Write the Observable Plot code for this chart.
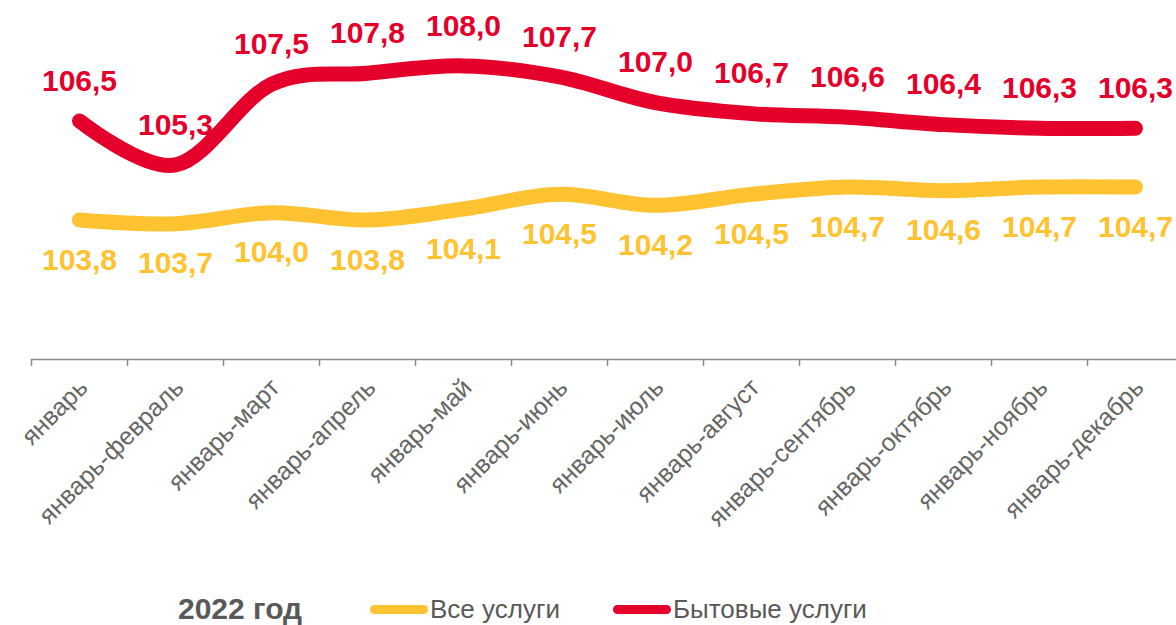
<!DOCTYPE html>
<html>
<head>
<meta charset="utf-8">
<script src="https://cdn.jsdelivr.net/npm/d3@7"></script>
<script src="https://cdn.jsdelivr.net/npm/@observablehq/plot@0.6"></script>
<style>
  html, body { margin: 0; padding: 0; background: #fff; }
  body { width: 1176px; height: 625px; position: relative; overflow: hidden; font-family: "Liberation Sans", Arial, sans-serif; }
  #chart svg { display: block; }
  .legend { position: absolute; top: 593px; left: 0; width: 1176px; height: 32px; color: #595959; }
  .legend .item { position: absolute; top: 0; height: 32px; line-height: 32px; white-space: nowrap; }
  .legend .title { font-weight: bold; font-size: 30px; }
  .legend .lab { font-size: 26px; }
  .legend .sw { position: absolute; top: 12px; width: 58px; height: 9px; border-radius: 5px; }
</style>
</head>
<body>
<div id="chart"></div>
<div class="legend">
  <div class="item title" style="left:178px">2022 год</div>
  <div class="sw" style="left:370px;background:#ffc230"></div>
  <div class="item lab" style="left:430px">Все услуги</div>
  <div class="sw" style="left:613px;background:#e4002b"></div>
  <div class="item lab" style="left:673px">Бытовые услуги</div>
</div>
<script>
const categories = ["январь", "январь-февраль", "январь-март", "январь-апрель", "январь-май", "январь-июнь",
  "январь-июль", "январь-август", "январь-сентябрь", "январь-октябрь", "январь-ноябрь", "январь-декабрь"];
const allServices = [103.8, 103.7, 104.0, 103.8, 104.1, 104.5, 104.2, 104.5, 104.7, 104.6, 104.7, 104.7];
const householdServices = [106.5, 105.3, 107.5, 107.8, 108.0, 107.7, 107.0, 106.7, 106.6, 106.4, 106.3, 106.3];
const seriesNames = ["Все услуги", "Бытовые услуги"];
const colors = ["#ffc230", "#e4002b"];

const all = categories.map((c, i) => ({i, c, v: allServices[i], s: seriesNames[0]}));
const house = categories.map((c, i) => ({i, c, v: householdServices[i], s: seriesNames[1]}));
const idx = categories.map((c, i) => i);
const bounds = categories.map((c, i) => i - 0.5);
const fmt = v => v.toFixed(1).replace(".", ",");

const chart = Plot.plot({
  width: 1176,
  height: 580,
  marginLeft: 31,
  marginRight: 0,
  marginTop: 65.4,
  marginBottom: 221,
  style: {fontFamily: "'Liberation Sans', Arial, sans-serif", background: "transparent", overflow: "visible"},
  x: {domain: [-0.5, 11.5], range: [31, 1183], axis: null, label: null},
  y: {domain: [100, 108], axis: null, label: null},
  marks: [
    Plot.ruleY([100], {stroke: "#8c8c8c", strokeWidth: 1.5}),
    Plot.axisX(bounds, {tickSize: 7, tickFormat: () => "", label: null, stroke: "#8c8c8c", strokeWidth: 1.5}),
    Plot.text(idx, {x: d => d, text: d => categories[d], frameAnchor: "bottom", dy: 24, dx: 4,
      rotate: -45, textAnchor: "end", lineAnchor: "middle", fontSize: 25, fill: "#666666"}),
    Plot.line(all, {x: "i", y: "v", stroke: colors[0], strokeWidth: 15, curve: "cardinal",
      strokeLinecap: "round", strokeLinejoin: "round"}),
    Plot.line(house, {x: "i", y: "v", stroke: colors[1], strokeWidth: 15, curve: "cardinal",
      strokeLinecap: "round", strokeLinejoin: "round"}),
    Plot.text(all, {x: "i", y: "v", text: d => fmt(d.v), dy: 40, fill: colors[0],
      fontSize: 30, fontWeight: "bold"}),
    Plot.text(house, {x: "i", y: "v", text: d => fmt(d.v), dy: -40, fill: colors[1],
      fontSize: 30, fontWeight: "bold"})
  ]
});
document.getElementById("chart").appendChild(chart);
</script>
</body>
</html>
